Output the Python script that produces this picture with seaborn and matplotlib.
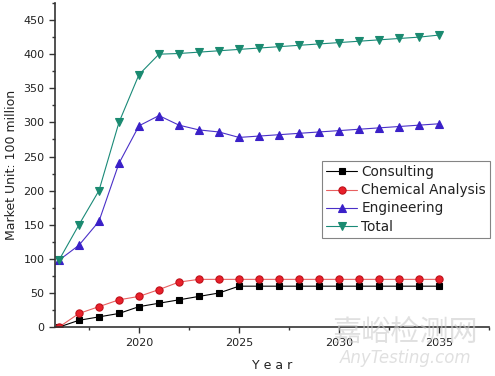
import numpy as np
import pandas as pd
import matplotlib
matplotlib.use("Agg")
import matplotlib.pyplot as plt
import seaborn as sns
from matplotlib.ticker import MultipleLocator

years = list(range(2016, 2036))
consulting = [0, 10, 15, 20, 30, 35, 40, 45, 50, 60, 60, 60, 60, 60, 60, 60, 60, 60, 60, 60]
chemical = [0, 20, 30, 40, 45, 55, 66, 70, 70, 70, 70, 70, 70, 70, 70, 70, 70, 70, 70, 70]
engineering = [98, 120, 155, 240, 295, 310, 296, 289, 286, 278, 280, 282, 284, 286, 288, 290, 292, 294, 296, 298]
total = [98, 150, 200, 300, 370, 400, 401, 403, 405, 407, 409, 411, 413, 415, 417, 419, 421, 423, 425, 428]
series_names = ["Consulting", "Chemical Analysis", "Engineering", "Total"]

df = pd.DataFrame({
    "Year": years * 4,
    "Value": consulting + chemical + engineering + total,
    "Series": sum([[n] * len(years) for n in series_names], []),
})

sns.set_style("ticks")
plt.rcParams['font.family'] = ['DejaVu Sans']

fig = plt.figure(figsize=(4.95, 3.76), dpi=100)
ax = fig.add_axes([0.111, 0.130, 0.877, 0.862])

styles = {
    "Consulting": dict(color="#000000", marker="s", mfc="#000000", mec="#000000", ms=4.5),
    "Chemical Analysis": dict(color="#e86060", marker="o", mfc="#e8202a", mec="#c0101a", ms=5.2),
    "Engineering": dict(color="#4a30c8", marker="^", mfc="#3a20c8", mec="#3a20c8", ms=5.8),
    "Total": dict(color="#1a8a78", marker="v", mfc="#1a8a70", mec="#1a8a70", ms=5.8),
}
for name in series_names:
    st = styles[name]
    sub = df[df["Series"] == name]
    sns.lineplot(data=sub, x="Year", y="Value", ax=ax, color=st["color"], marker=st["marker"],
                 markerfacecolor=st["mfc"], markeredgecolor=st["mec"], markersize=st["ms"],
                 markeredgewidth=0.8, linewidth=0.8, label=name)

ax.set_xlim(2015.8, 2037.5)
ax.set_ylim(0, 475)
ax.xaxis.set_major_locator(MultipleLocator(5))
ax.xaxis.set_minor_locator(MultipleLocator(2.5))
ax.yaxis.set_major_locator(MultipleLocator(50))
ax.yaxis.set_minor_locator(MultipleLocator(25))
ax.set_yticks(range(0, 451, 50))
ax.tick_params(axis="both", which="major", length=4, width=1, labelsize=8, colors="#333333", labelcolor="#222222")
ax.tick_params(axis="both", which="minor", length=2.5, width=1, colors="#333333")
for s in ["top", "right"]:
    ax.spines[s].set_visible(False)
for s in ["left", "bottom"]:
    ax.spines[s].set_linewidth(1.2)
    ax.spines[s].set_color("#333333")

ax.set_xlabel("Y e a r", fontsize=9, color="#222222", labelpad=8)
ax.set_ylabel("Market Unit: 100 million", fontsize=9, color="#222222", labelpad=4)

leg = ax.legend(loc="upper left", bbox_to_anchor=(0.615, 0.512), frameon=True, fancybox=False,
                fontsize=9.8, handlelength=2.3, handletextpad=0.3, borderpad=0.3, labelspacing=0.3,
                borderaxespad=0)
leg.get_frame().set_edgecolor("#666666")
leg.get_frame().set_linewidth(0.8)
for t in leg.get_texts():
    t.set_color("#222222")

fig.text(0.82, 0.112, "嘉峪检测网", fontsize=21, color="#cccccc", alpha=0.6,
         family=["Noto Sans CJK SC", "DejaVu Sans"], ha="center", va="center")
fig.text(0.82, 0.048, "AnyTesting.com", fontsize=12, color="#cccccc", alpha=0.6, style="italic",
         ha="center", va="center")

fig.savefig("out.png", dpi=100)
